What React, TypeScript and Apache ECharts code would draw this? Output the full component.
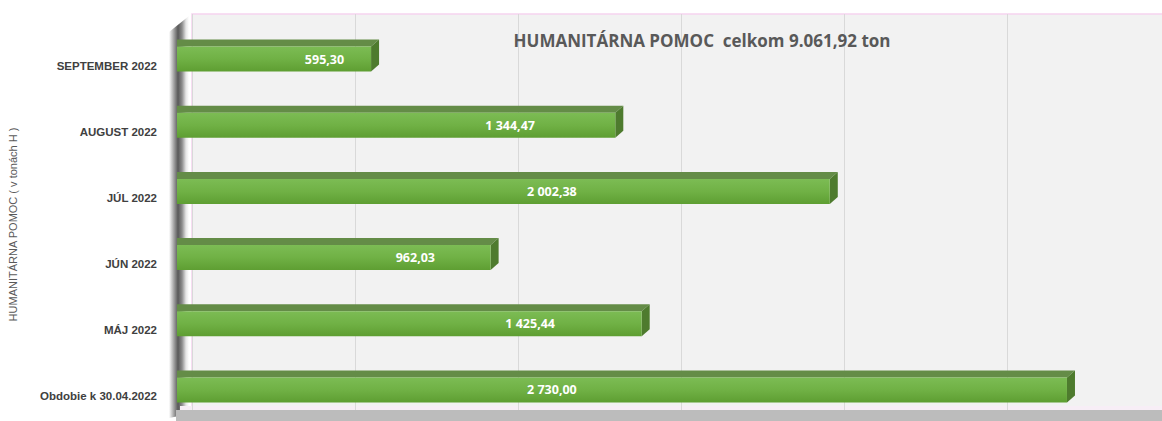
import { useEffect, useRef } from "react";
import * as echarts from "echarts";

const categories = [
  "Obdobie k 30.04.2022",
  "MÁJ 2022",
  "JÚN 2022",
  "JÚL 2022",
  "AUGUST 2022",
  "SEPTEMBER 2022",
];
const values = [2730.0, 1425.44, 962.03, 2002.38, 1344.47, 595.3];
const chartTitle = "HUMANITÁRNA POMOC  celkom 9.061,92 ton";
const axisTitle = "HUMANITÁRNA POMOC ( v tonách H )";
const axisMax = 3000;
const axisStep = 500;

const fmt = (v: number) => {
  const [i, d] = v.toFixed(2).split(".");
  return i.replace(/\B(?=(\d{3})+(?!\d))/g, " ") + "," + d;
};

export default function App() {
  const ref = useRef<HTMLDivElement>(null);
  useEffect(() => {
    if (!ref.current) return;
    const chart = echarts.init(ref.current, undefined, { renderer: "svg" });
    const faceGrad = new echarts.graphic.LinearGradient(0, 0, 0, 1, [
      { offset: 0, color: "#7cbc54" },
      { offset: 0.5, color: "#70b145" },
      { offset: 1, color: "#5e9e32" },
    ]);
    chart.setOption({
      animation: false,
      backgroundColor: "#ffffff",
      grid: [
        {
          left: 192,
          width: 978,
          top: 14,
          bottom: 11,
          show: true,
          backgroundColor: "#f2f2f2",
          borderColor: "#f6d3f0",
          borderWidth: 1.5,
          containLabel: false,
          outerBoundsMode: "none",
        },
        {
          left: 177,
          width: 978,
          top: 26,
          height: 397,
          containLabel: false,
          outerBoundsMode: "none",
        },
      ],
      xAxis: [
        {
          gridIndex: 0,
          type: "value",
          min: 0,
          max: axisMax,
          interval: axisStep,
          axisLine: { show: false },
          axisTick: { show: false },
          axisLabel: { show: false },
          splitLine: { show: true, lineStyle: { color: "#d9d9d9", width: 1 } },
        },
        {
          gridIndex: 1,
          type: "value",
          min: 0,
          max: axisMax,
          interval: axisStep,
          show: false,
          splitLine: { show: false },
        },
      ],
      yAxis: [
        {
          gridIndex: 0,
          type: "category",
          data: categories,
          show: false,
        },
        {
          gridIndex: 1,
          type: "category",
          data: categories,
          axisLine: { show: false },
          axisTick: { show: false },
          axisLabel: {
            margin: 20,
            formatter: "{a|{value}}",
            rich: {
              a: {
                padding: [13, 0, 0, 0],
                fontFamily: "Liberation Sans",
                fontWeight: "bold",
                fontSize: 11.5,
                color: "#404040",
              },
            },
          },
          name: axisTitle,
          nameLocation: "middle",
          nameRotate: 90,
          nameGap: 159,
          nameTextStyle: {
            fontFamily: "Liberation Sans",
            fontSize: 11,
            color: "#595959",
          },
        },
      ],
      graphic: [
        {
          type: "polygon",
          z: 0,
          shape: {
            points: [
              [169, 32],
              [189, 16],
              [189, 414],
              [169, 418],
            ],
          },
          style: {
            fill: new echarts.graphic.LinearGradient(0, 0, 1, 0, [
              { offset: 0, color: "#ffffff" },
              { offset: 0.25, color: "#a0a0a0" },
              { offset: 0.45, color: "#585858" },
              { offset: 0.65, color: "#8c8c8c" },
              { offset: 0.85, color: "#e6e6e6" },
              { offset: 1, color: "#ffffff" },
            ]),
          },
        },
        {
          type: "rect",
          z: 0,
          shape: { x: 176, y: 410, width: 990, height: 12 },
          style: { fill: "#bcbcbc" },
        },
        {
          type: "rect",
          z: 0,
          shape: { x: 180, y: 406, width: 990, height: 4 },
          style: { fill: "#f7eef6" },
        },
        {
          type: "text",
          z: 20,
          x: 702,
          y: 40,
          style: {
            text: chartTitle,
            fill: "#595959",
            fontFamily: "Open Sans",
            fontWeight: "bold",
            fontSize: 17,
            align: "center",
            verticalAlign: "middle",
          },
        },
      ],
      series: [
        {
          type: "custom",
          xAxisIndex: 1,
          yAxisIndex: 1,
          z: 10,
          encode: { x: 0, y: 1 },
          data: values.map((v, i) => [v, i]),
          renderItem: (params: any, api: any) => {
            const v = api.value(0);
            const idx = api.value(1);
            const p0 = api.coord([0, idx]);
            const p1 = api.coord([v, idx]);
            const x0 = p0[0];
            const yc = p0[1];
            const x1 = p1[0];
            const h = 25;
            const d = 8;
            const e = 7;
            const top = yc - h / 2;
            const bot = yc + h / 2;
            const lx = api.coord([Math.min(v * 0.76, 1150), idx])[0];
            return {
              type: "group",
              children: [
                {
                  type: "polygon",
                  shape: {
                    points: [
                      [x0, top],
                      [x0, top - e],
                      [x1 + d, top - e],
                      [x1, top],
                    ],
                  },
                  style: { fill: "#648c47" },
                },
                {
                  type: "polygon",
                  shape: {
                    points: [
                      [x1, top],
                      [x1 + d, top - e],
                      [x1 + d, bot - e],
                      [x1, bot],
                    ],
                  },
                  style: { fill: "#4e7b2e" },
                },
                {
                  type: "rect",
                  shape: { x: x0, y: top, width: x1 - x0, height: h },
                  style: { fill: faceGrad },
                },
                {
                  type: "text",
                  x: lx,
                  y: yc,
                  style: {
                    text: fmt(v),
                    fill: "#ffffff",
                    fontFamily: "Open Sans",
                    fontWeight: "bold",
                    fontSize: 12.5,
                    align: "center",
                    verticalAlign: "middle",
                  },
                },
              ],
            };
          },
        },
      ],
    });
    return () => chart.dispose();
  }, []);
  return (
    <div
      ref={ref}
      style={{ position: "fixed", left: 0, top: 0, width: 1162, height: 421 }}
    />
  );
}
